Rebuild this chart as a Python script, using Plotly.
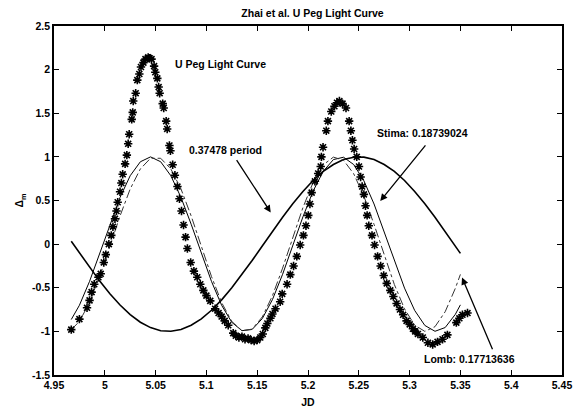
import plotly.graph_objects as go

# ---------------- data ----------------
STAR_JD = [4.967, 4.975, 4.9825, 4.985, 4.987, 4.9896, 4.9937, 4.996, 4.999, 5.001,
           5.004, 5.0064, 5.008, 5.010, 5.0115, 5.0127, 5.015, 5.0163, 5.0176, 5.020,
           5.0217, 5.023, 5.024, 5.0265, 5.0275, 5.028, 5.0304, 5.032, 5.034, 5.0356,
           5.038, 5.040, 5.0427, 5.044, 5.046, 5.0485, 5.0497, 5.0517, 5.053, 5.054,
           5.057, 5.058, 5.0604, 5.0614, 5.0636, 5.0646, 5.0668, 5.069, 5.0715, 5.0735,
           5.0755, 5.0775, 5.0795, 5.0813, 5.0845, 5.0877, 5.091, 5.094, 5.097, 5.100,
           5.1038, 5.1086, 5.112, 5.115, 5.118, 5.1215, 5.1264, 5.129, 5.132, 5.135,
           5.138, 5.141, 5.144, 5.147, 5.150, 5.153, 5.1555, 5.158, 5.160, 5.163,
           5.165, 5.168, 5.1726, 5.1746, 5.1794, 5.1826, 5.1858, 5.189, 5.1923, 5.1955,
           5.198, 5.2003, 5.2019, 5.2036, 5.2068, 5.210, 5.2125, 5.2132, 5.2148, 5.218,
           5.2196, 5.2229, 5.226, 5.2285, 5.2309, 5.234, 5.2374, 5.2405, 5.2422, 5.2437,
           5.2454, 5.248, 5.2502, 5.2518, 5.2533, 5.255, 5.2566, 5.2582, 5.2598, 5.263,
           5.2655, 5.2685, 5.2715, 5.2745, 5.2775, 5.281, 5.284, 5.2872, 5.2905, 5.2936,
           5.297, 5.3001, 5.3033, 5.3055, 5.3082, 5.313, 5.318, 5.3227, 5.3275, 5.3324,
           5.3372, 5.346, 5.349, 5.352, 5.357]
STAR_DM = [-0.98, -0.86, -0.73, -0.645, -0.55, -0.46, -0.38, -0.34, -0.21, -0.12,
           0.0, 0.10, 0.20, 0.29, 0.38, 0.48, 0.60, 0.70, 0.80, 0.92,
           1.02, 1.15, 1.26, 1.43, 1.51, 1.64, 1.73, 1.88, 1.95, 2.03,
           2.08, 2.12, 2.14, 2.13, 2.12, 2.04, 1.97, 1.90, 1.80, 1.73,
           1.61, 1.56, 1.41, 1.32, 1.13, 1.07, 0.91, 0.79, 0.66, 0.52,
           0.38, 0.22, 0.08, -0.05, -0.21, -0.31, -0.38, -0.46, -0.53, -0.59,
           -0.65, -0.74, -0.79, -0.83, -0.88, -0.93, -1.02, -1.05, -1.07, -1.06,
           -1.09, -1.08, -1.10, -1.11, -1.10, -1.07, -1.03, -0.96, -0.91, -0.85,
           -0.80, -0.74, -0.66, -0.57, -0.46, -0.35, -0.25, -0.14, -0.01, 0.10,
           0.21, 0.33, 0.46, 0.59, 0.72, 0.81, 0.89, 1.00, 1.11, 1.30,
           1.41, 1.52, 1.58, 1.62, 1.64, 1.61, 1.56, 1.41, 1.30, 1.19,
           1.09, 1.00, 0.89, 0.77, 0.66, 0.57, 0.44, 0.33, 0.21, 0.10,
           -0.01, -0.14, -0.25, -0.36, -0.45, -0.53, -0.60, -0.68, -0.75, -0.81,
           -0.88, -0.92, -0.97, -1.00, -1.03, -1.07, -1.13, -1.15, -1.12, -1.09,
           -1.04, -0.90, -0.85, -0.81, -0.79]

MODEL_JD = [4.967, 4.975, 4.985, 4.995, 5.005, 5.015, 5.025, 5.035, 5.045, 5.055,
            5.065, 5.075, 5.085, 5.095, 5.105, 5.115, 5.125, 5.135, 5.145, 5.155,
            5.165, 5.175, 5.185, 5.195, 5.205, 5.215, 5.225, 5.235, 5.245, 5.255,
            5.265, 5.275, 5.285, 5.295, 5.305, 5.315, 5.325, 5.335, 5.345, 5.350]
PERIOD_037478 = [0.032, -0.102, -0.266, -0.424, -0.569, -0.698, -0.808, -0.895, -0.957, -0.992,
                 -0.999, -0.979, -0.930, -0.856, -0.758, -0.639, -0.501, -0.350, -0.188, -0.022,
                 0.145, 0.308, 0.463, 0.604, 0.729, 0.833, 0.913, 0.969, 0.996, 0.997,
                 0.969, 0.913, 0.833, 0.729, 0.604, 0.463, 0.308, 0.145, -0.022, -0.106]
STIMA = [-0.864, -0.701, -0.427, -0.106, 0.228, 0.535, 0.784, 0.944, 1.000, 0.944,
         0.784, 0.535, 0.228, -0.106, -0.427, -0.701, -0.896, -0.992, -0.978, -0.854,
         -0.636, -0.346, -0.018, 0.312, 0.607, 0.835, 0.969, 0.996, 0.912, 0.726,
         0.460, 0.142, -0.192, -0.504, -0.760, -0.932, -0.999, -0.956, -0.805, -0.696]
LOMB = [-0.981, -0.886, -0.670, -0.371, -0.025, 0.323, 0.632, 0.862, 0.984, 0.984,
        0.862, 0.632, 0.323, -0.025, -0.371, -0.670, -0.886, -0.992, -0.974, -0.835,
        -0.592, -0.275, 0.076, 0.418, 0.707, 0.909, 0.997, 0.961, 0.806, 0.550,
        0.226, -0.127, -0.463, -0.742, -0.929, -1.000, -0.946, -0.775, -0.507, -0.347]

X_TICKS = [4.95, 5.0, 5.05, 5.1, 5.15, 5.2, 5.25, 5.3, 5.35, 5.4, 5.45]
X_LABELS = ["4.95", "5", "5.05", "5.1", "5.15", "5.2", "5.25", "5.3", "5.35", "5.4", "5.45"]
Y_TICKS = [-1.5, -1.0, -0.5, 0.0, 0.5, 1.0, 1.5, 2.0, 2.5]
Y_LABELS = ["-1.5", "-1", "-0.5", "0", "0.5", "1", "1.5", "2", "2.5"]

TITLE = "Zhai et al. U Peg Light Curve"

FONT = dict(family="Liberation Sans, Arial, sans-serif", size=10.5, color="black")
TICKFONT = dict(family="Liberation Sans, Arial, sans-serif", size=10.5, color="black",
                weight="bold")

fig = go.Figure()
fig.add_trace(go.Scatter(x=MODEL_JD, y=PERIOD_037478, mode="lines",
                         line=dict(color="black", width=1.6), showlegend=False))
fig.add_trace(go.Scatter(x=MODEL_JD, y=STIMA, mode="lines",
                         line=dict(color="black", width=1.0), showlegend=False))
fig.add_trace(go.Scatter(x=MODEL_JD, y=LOMB, mode="lines",
                         line=dict(color="#333333", width=1.0, dash="dashdot"), showlegend=False))
fig.add_trace(go.Scatter(x=STAR_JD, y=STAR_DM, mode="markers",
                         marker=dict(symbol="asterisk-open", size=7, color="black",
                                     line=dict(color="black", width=1.6)),
                         showlegend=False))

def label(x, y, text):
    fig.add_annotation(x=x, y=y, xref="x", yref="y", text=text, showarrow=False,
                       xanchor="left", yanchor="middle", font=FONT)

def arrow(x0, y0, x1, y1):
    fig.add_annotation(x=x1, y=y1, ax=x0, ay=y0, xref="x", yref="y", axref="x", ayref="y",
                       text="", showarrow=True, arrowhead=2, arrowsize=1.1,
                       arrowwidth=1.3, arrowcolor="black")

label(5.0668, 2.06, "<b>U Peg Light Curve</b>")
label(5.0813, 1.074, "<b>0.37478 period</b>")
arrow(5.1288, 0.98, 5.1633, 0.363)
label(5.2663, 1.279, "<b>Stima: 0.18739024</b>")
arrow(5.3168, 1.148, 5.2711, 0.494)
label(5.3122, -1.317, "<b>Lomb: 0.17713636</b>")
arrow(5.3822, -1.223, 5.3516, -0.383)

axis_common = dict(showline=True, linecolor="black", linewidth=1.5, mirror="ticks",
                   ticks="inside", ticklen=5, tickwidth=1, tickcolor="black",
                   showgrid=False, zeroline=False, tickfont=TICKFONT)

fig.update_layout(
    width=584, height=419,
    margin=dict(l=54, r=13, t=26, b=36),
    paper_bgcolor="white", plot_bgcolor="white",
    title=dict(text="<b>" + TITLE + "</b>", x=(54 + 571) / 2 / 584, xanchor="center",
               y=1 - 13 / 419, yanchor="middle", font=FONT),
    xaxis=dict(range=[4.95, 5.45], tickvals=X_TICKS, ticktext=X_LABELS,
               title=dict(text="<b>JD</b>", font=FONT, standoff=8), **axis_common),
    yaxis=dict(range=[-1.5, 2.5], tickvals=Y_TICKS, ticktext=Y_LABELS,
               title=dict(text="<b>Δ<sub>m</sub></b>", font=FONT, standoff=6), **axis_common),
)

fig.write_html("out.html")
